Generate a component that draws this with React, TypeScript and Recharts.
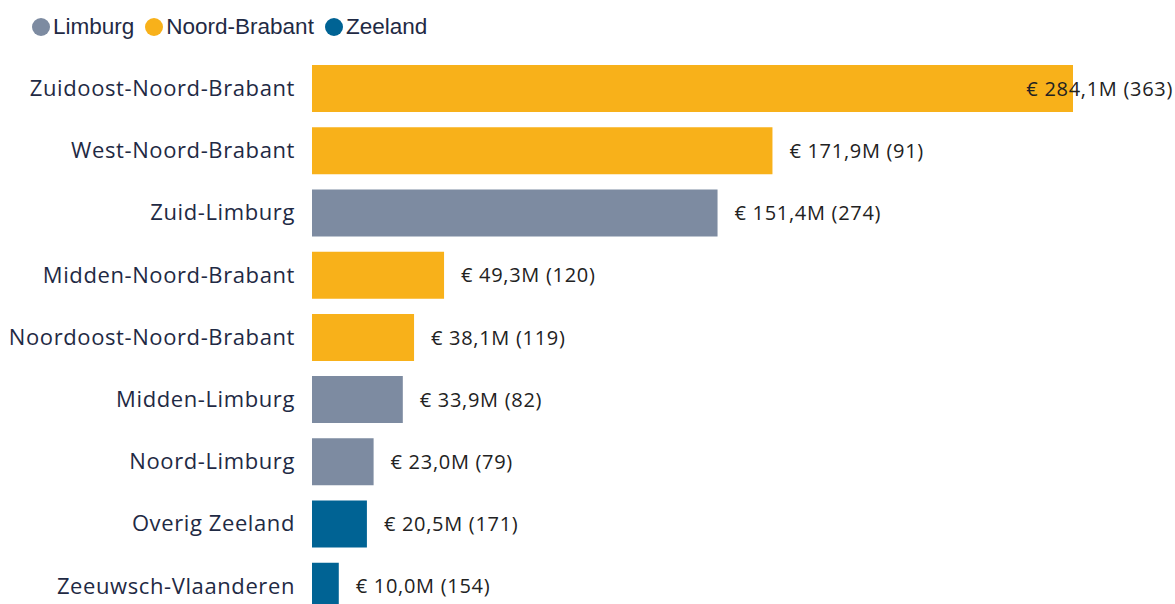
import React from 'react'
import { BarChart, Bar, XAxis, YAxis, Cell, LabelList } from 'recharts'

const regions = [
  'Zuidoost-Noord-Brabant',
  'West-Noord-Brabant',
  'Zuid-Limburg',
  'Midden-Noord-Brabant',
  'Noordoost-Noord-Brabant',
  'Midden-Limburg',
  'Noord-Limburg',
  'Overig Zeeland',
  'Zeeuwsch-Vlaanderen',
]
const provinces = [
  'Noord-Brabant', 'Noord-Brabant', 'Limburg', 'Noord-Brabant', 'Noord-Brabant',
  'Limburg', 'Limburg', 'Zeeland', 'Zeeland',
]
const amounts = [284.1, 171.9, 151.4, 49.3, 38.1, 33.9, 23.0, 20.5, 10.0]
const counts = [363, 91, 274, 120, 119, 82, 79, 171, 154]

const legendItems = ['Limburg', 'Noord-Brabant', 'Zeeland']
const provinceColors: Record<string, string> = {
  Limburg: '#7d8ba1',
  'Noord-Brabant': '#f8b11a',
  Zeeland: '#006394',
}

const data = regions.map((name, i) => ({
  name,
  province: provinces[i],
  value: amounts[i],
  label: `€ ${amounts[i].toFixed(1).replace('.', ',')}M (${counts[i]})`,
}))

const WIDTH = 1175
const FONT = '"Open Sans", sans-serif'

function ValueLabel(props: any) {
  const { x, y, width, height, value } = props
  const text = String(value)
  const estWidth = text.length * 10.6
  let tx = x + width + 17
  let anchor: 'start' | 'end' = 'start'
  if (tx + estWidth > WIDTH - 2) {
    tx = WIDTH - 2
    anchor = 'end'
  }
  return (
    <text x={tx} y={y + height / 2} dy="0.36em" textAnchor={anchor}
      fontSize={20} letterSpacing={0.7} fontFamily={FONT} fill="#222">
      {text}
    </text>
  )
}

export default function App() {
  return (
    <div style={{ position: 'absolute', left: 0, top: 0, width: WIDTH, height: 604, overflow: 'hidden', background: '#fff' }}>
      {/* legend */}
      <div style={{ position: 'absolute', left: 32, top: 14, display: 'flex', gap: 11, fontFamily: '"Liberation Sans", Arial, sans-serif', fontSize: 22.5, color: '#1f2a44', zIndex: 1 }}>
        {legendItems.map((p) => (
          <span key={p} style={{ display: 'flex', alignItems: 'center', gap: 3 }}>
            <span style={{ width: 18, height: 18, borderRadius: '50%', background: provinceColors[p], display: 'inline-block' }} />
            {p}
          </span>
        ))}
      </div>
      <BarChart
        width={WIDTH}
        height={620}
        data={data}
        layout="vertical"
        margin={{ top: 57, right: 102, bottom: 3, left: 0 }}
        barCategoryGap={15}
      >
        <XAxis type="number" domain={[0, 284.1]} hide />
        <YAxis
          type="category"
          dataKey="name"
          width={312}
          axisLine={false}
          tickLine={false}
          tickSize={0}
          tickMargin={17}
          interval={0}
          tick={{ fontSize: 22, letterSpacing: 0.6, fontFamily: FONT, fill: '#1f2a44' }}
        />
        <Bar dataKey="value" barSize={47} isAnimationActive={false}>
          {data.map((d) => (
            <Cell key={d.name} fill={provinceColors[d.province]} />
          ))}
          <LabelList dataKey="label" content={ValueLabel} />
        </Bar>
      </BarChart>
    </div>
  )
}
